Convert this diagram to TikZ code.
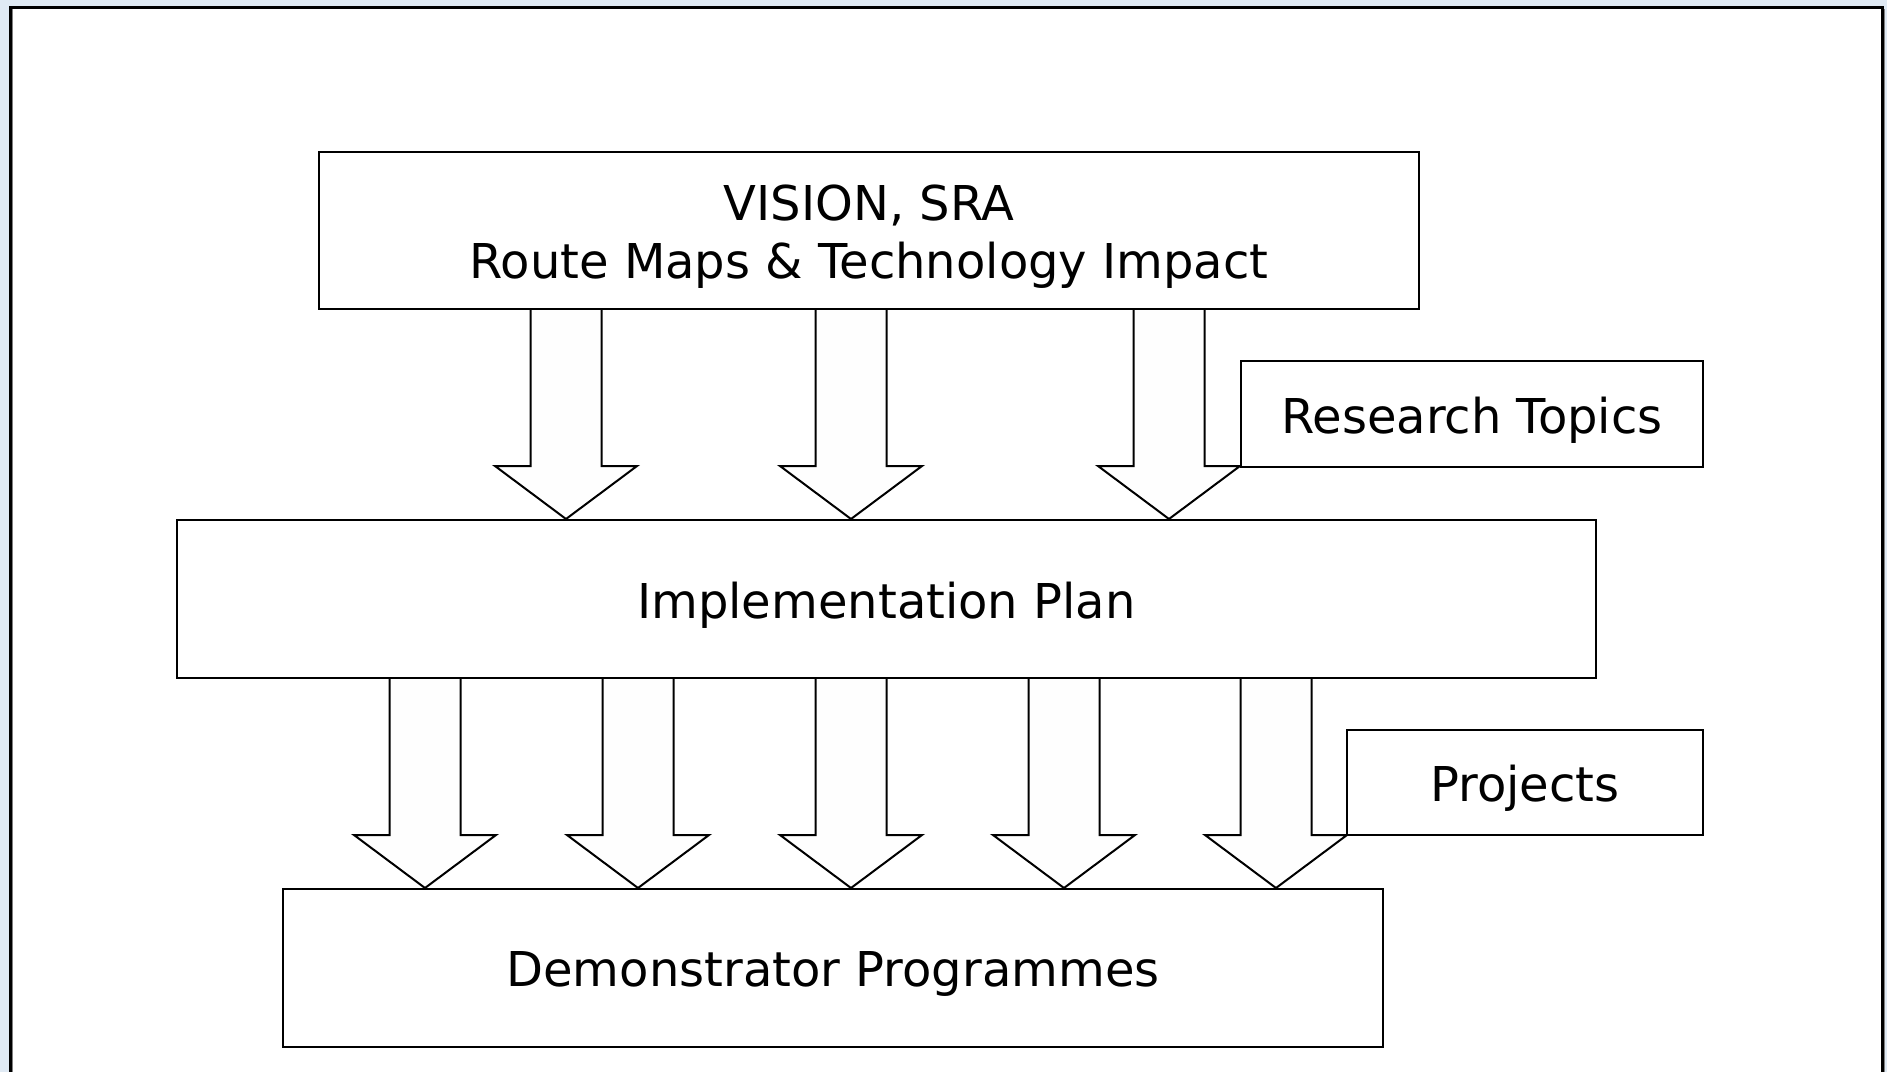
\documentclass[tikz,border=0pt]{standalone}
\usepackage{fontspec}
\setmainfont{DejaVu Sans}
\usetikzlibrary{calc}
\definecolor{bgblue}{HTML}{E0EAF4}
\definecolor{arrowfill}{HTML}{FEFEFE}
\newcommand\lowered[1]{\raisebox{-3pt}[\height][\depth]{#1}}
\tikzset{
  box/.style={draw=black, line width=1pt, fill=white, rectangle, inner sep=0pt,
    font=\fontsize{24}{29}\selectfont, align=center},
  blockarr/.style={draw=black, line width=1pt, fill=arrowfill, line join=miter},
}
% #1 = x centre (px), #2 = source node, #3 = target node
\newcommand\blockarrow[3]{%
  \path[blockarr] let \p1=(#2.south), \p2=(#3.north), \p3=(#1,0) in
    (\x3-17.75pt,\y1) -- (\x3-17.75pt,\y2+26.5pt) -- (\x3-35.5pt,\y2+26.5pt)
    -- (\x3,\y2) -- (\x3+35.5pt,\y2+26.5pt) -- (\x3+17.75pt,\y2+26.5pt)
    -- (\x3+17.75pt,\y1);
}
\begin{document}
\begin{tikzpicture}[x=0.5pt,y=-0.5pt]
\useasboundingbox (0,0) rectangle (1887,1072);
\clip (0,0) rectangle (1887,1072);
\fill[bgblue] (0,0) rectangle (1887,1072);
\draw[line width=1.5pt, black, fill=white] (10,7) rectangle (1882,1100);
\draw[line width=0.6pt, gray] (12.5,9) -- (12.5,1100);
\draw[line width=0.6pt, gray] (1884.5,9) -- (1884.5,1100);

\node[box, minimum width=550pt, minimum height=78.5pt] (vision) at (869,230.5)
  {\lowered{VISION, SRA}\\\lowered{Route Maps \& Technology Impact}};
\node[box, minimum width=709.5pt, minimum height=79pt] (impl) at (886.5,599)
  {\lowered{Implementation Plan}};
\node[box, minimum width=550pt, minimum height=79pt] (demo) at (833,968)
  {\lowered{Demonstrator Programmes}};

\blockarrow{566}{vision}{impl}
\blockarrow{851}{vision}{impl}
\blockarrow{1169}{vision}{impl}

\blockarrow{425}{impl}{demo}
\blockarrow{638}{impl}{demo}
\blockarrow{851}{impl}{demo}
\blockarrow{1064}{impl}{demo}
\blockarrow{1276}{impl}{demo}

\node[box, minimum width=231pt, minimum height=53pt] (research) at (1472,414)
  {\lowered{Research Topics}};
\node[box, minimum width=178pt, minimum height=52.5pt] (projects) at (1525,782.5)
  {\lowered{Projects}};
\end{tikzpicture}
\end{document}
